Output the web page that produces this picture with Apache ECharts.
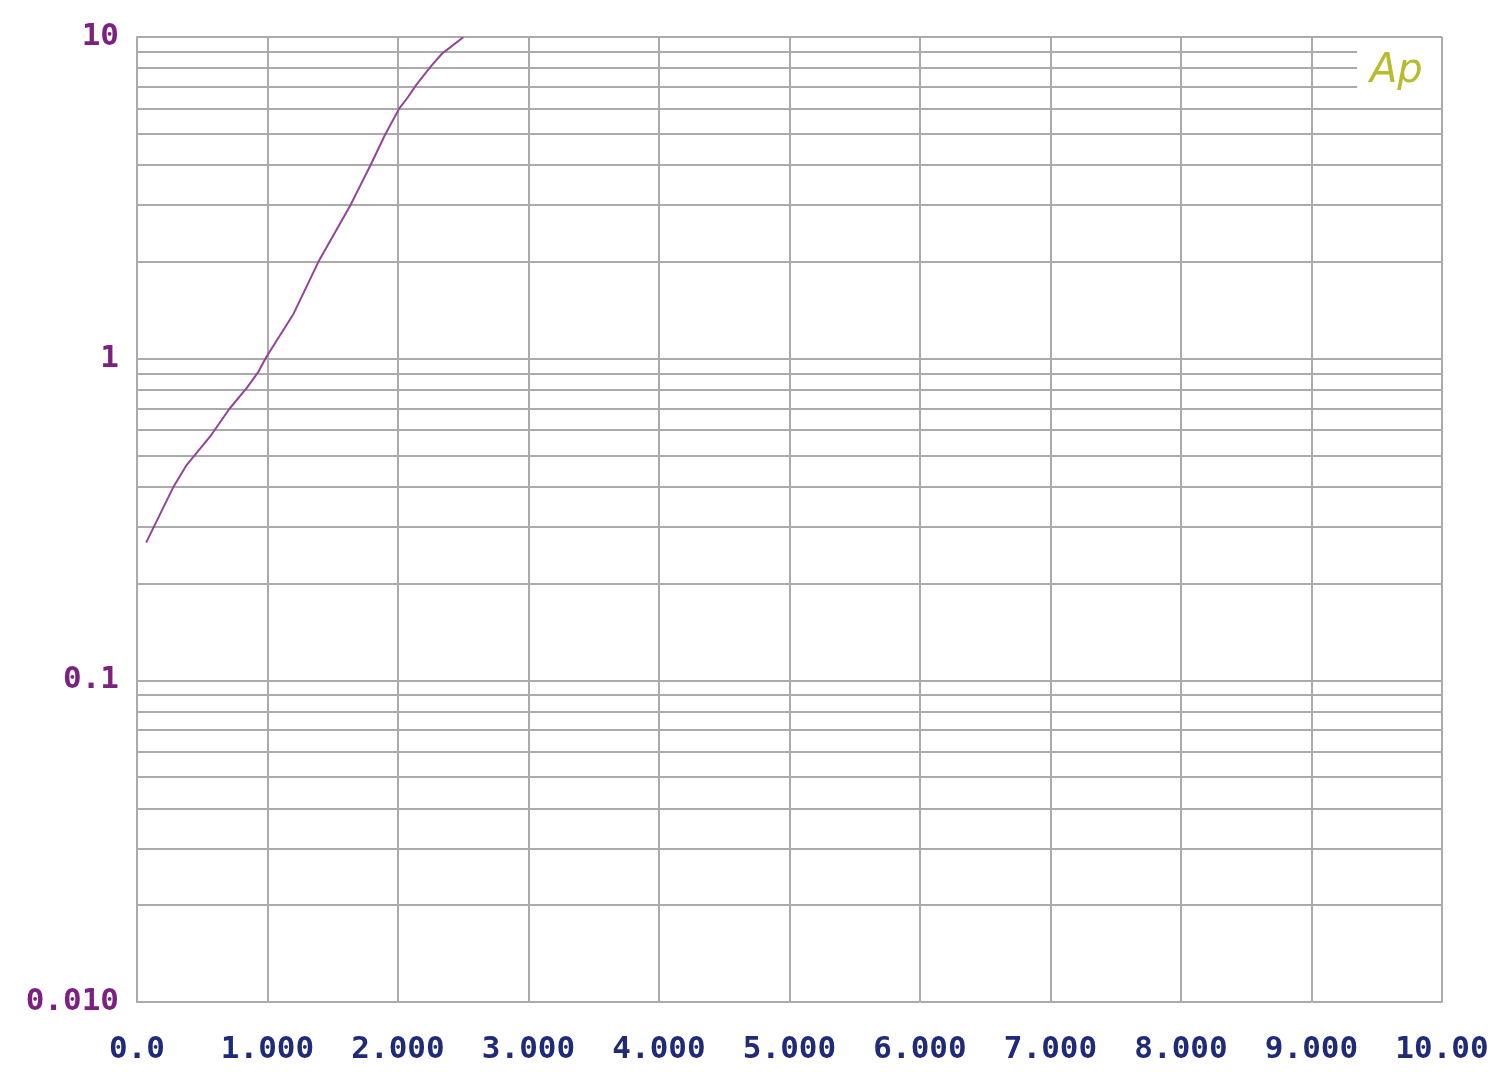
<!DOCTYPE html>
<html>
<head>
<meta charset="utf-8">
<script src="https://cdn.jsdelivr.net/npm/echarts@6/dist/echarts.min.js"></script>
<style>
html,body{margin:0;padding:0;background:#fff;}
#chart{width:1500px;height:1072px;}
</style>
</head>
<body>
<div id="chart"></div>
<script>
// Data
const xValues = [0.07, 0.28, 0.38, 0.57, 0.71, 0.84, 0.93, 0.99, 1.20, 1.39, 1.63, 1.79, 1.90, 2.01, 2.07, 2.14, 2.25, 2.34, 2.39, 2.50];
const yValues = [0.268, 0.40, 0.467, 0.58, 0.70, 0.81, 0.91, 1.01, 1.38, 2.0, 2.97, 4.0, 4.96, 6.0, 6.45, 7.1, 8.09, 8.9, 9.22, 9.98];
const xTickLabels = ["0.0", "1.000", "2.000", "3.000", "4.000", "5.000", "6.000", "7.000", "8.000", "9.000", "10.00"];
const yTickValues = [0.01, 0.1, 1, 10];
const yTickLabels = ["0.010", "0.1", "1", "10"];
// minor log grid lines (2..9 per decade); the top three stop short of the logo
const minorFull = [0.02,0.03,0.04,0.05,0.06,0.07,0.08,0.09,0.2,0.3,0.4,0.5,0.6,0.7,0.8,0.9,2,3,4,5,6];
const minorShort = [7, 8, 9];
const shortEndX = 9.35;

const gridColor = '#ababab';
const chart = echarts.init(document.getElementById('chart'));

const markData = minorFull.map(v => ({ yAxis: v }))
  .concat(minorShort.map(v => [{ coord: [0, v] }, { coord: [shortEndX, v] }]));

chart.setOption({
  animation: false,
  backgroundColor: '#ffffff',
  grid: { left: 137, right: 58, top: 37, bottom: 70, show: false },
  xAxis: {
    type: 'value', min: 0, max: 10, interval: 1,
    axisLine: { show: true, lineStyle: { color: gridColor, width: 2 } },
    axisTick: { show: false },
    splitLine: { show: true, lineStyle: { color: gridColor, width: 2 } },
    axisLabel: {
      margin: 32,
      fontFamily: 'DejaVu Sans Mono', fontWeight: 'bold', fontSize: 31, color: '#1f2a78',
      formatter: v => xTickLabels[Math.round(v)]
    }
  },
  yAxis: {
    type: 'log', logBase: 10, min: 0.01, max: 10,
    axisLine: { show: true, lineStyle: { color: gridColor, width: 2 } },
    axisTick: { show: false },
    splitLine: { show: true, lineStyle: { color: gridColor, width: 2 } },
    axisLabel: {
      margin: 18, padding: [4, 0, 0, 0],
      fontFamily: 'DejaVu Sans Mono', fontWeight: 'bold', fontSize: 31, color: '#7d2180',
      formatter: v => {
        const i = yTickValues.findIndex(t => Math.abs(Math.log10(t) - Math.log10(v)) < 1e-6);
        return i >= 0 ? yTickLabels[i] : '';
      }
    }
  },
  graphic: [{
    type: 'text', left: 1370, top: 52, z: 10,
    style: { text: 'Ap', fontFamily: 'DejaVu Sans', fontStyle: 'italic', fontWeight: 'lighter', fontSize: 40, fill: '#b8bb2c' }
  }],
  series: [
    {
      type: 'line', data: [], z: 1, silent: true,
      markLine: {
        silent: true, symbol: 'none', label: { show: false },
        lineStyle: { color: gridColor, width: 2, type: 'solid' },
        data: markData
      }
    },
    {
      type: 'line', z: 5, showSymbol: false, smooth: false,
      lineStyle: { color: '#93449a', width: 2 },
      data: xValues.map((x, i) => [x, yValues[i]])
    }
  ]
});
</script>
</body>
</html>
